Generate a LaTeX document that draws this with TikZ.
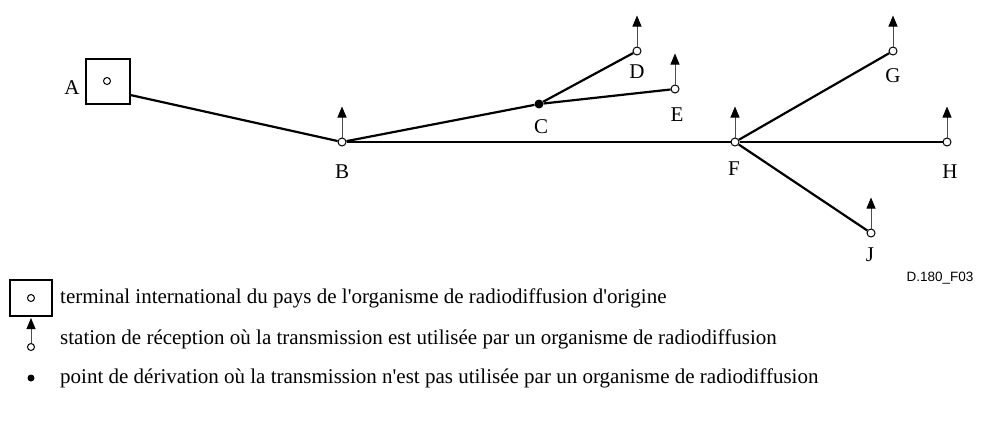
\documentclass[tikz,border=0pt]{standalone}
\usepackage{fontspec}
\setmainfont{Liberation Serif}[Ligatures=TeXOff]
\newfontfamily\tagfont{Liberation Sans}
\usetikzlibrary{arrows.meta,positioning,calc}
\tikzset{
  stn/.style={circle, draw, fill=white, line width=1pt, inner sep=0pt, minimum size=8pt},
  branch/.style={circle, fill=black, inner sep=0pt, minimum size=9pt},
  term/.style={rectangle, draw, line width=1.1pt, minimum width=44pt, minimum height=45pt, inner sep=0pt},
  link/.style={line width=2.2pt},
  antenna/.style={-{Triangle[length=11pt,width=9pt,black]}, line width=0.9pt, draw=black!70},
  tag/.style={font=\fontsize{21}{24}\selectfont, inner sep=0pt},
  lgd/.style={font=\fontsize{21}{24}\selectfont, anchor=west, inner sep=0pt}
}
\begin{document}
\begin{tikzpicture}[x=1pt,y=-1pt]
\useasboundingbox (0,0) rectangle (992,434);
% network
\node[term] (A) at (108,81.5) {};
\node[stn, minimum size=7pt] (Ao) at (107,81) {};
\node[stn] (B) at (342,142) {};
\node[branch] (C) at (539,104) {};
\node[stn] (D) at (637,51) {};
\node[stn] (E) at (675,89) {};
\node[stn] (F) at (735,142) {};
\node[stn] (G) at (893,51) {};
\node[stn] (H) at (947,142) {};
\node[stn] (J) at (871,233) {};
\draw[link] (A.-31) -- (B);
\draw[link] (B) -- (C); \draw[link] (C) -- (D); \draw[link] (C) -- (E);
\draw[link] (B) -- (F);
\draw[link] (F) -- (G); \draw[link] (F) -- (H); \draw[link] (F) -- (J);
\foreach \n in {B,D,E,F,G,H,J}{
  \path (\n.north) ++(0,-31) coordinate (\n-tip);
  \draw[antenna] (\n.north) -- (\n-tip);
}
% labels
\node[tag] (lA) at (72,88) {A};
\node[tag] (lB) at (342,172) {B};
\node[tag] (lC) at (541,127) {C};
\node[tag] (lD) at (637,72) {D};
\node[tag] (lE) at (677,115) {E};
\node[tag] (lF) at (734,169) {F};
\node[tag] (lG) at (893,76) {G};
\node[tag] (lH) at (950,172) {H};
\node[tag] (lJ) at (870,255) {J};
\node[font=\tagfont\fontsize{13.5}{16}\selectfont, inner sep=0pt] (ref) at (940,278) {D.180\_F03};
% legend
\node[term, minimum width=42pt, minimum height=36pt] (k1) at (31,298) {};
\node[stn, minimum size=7pt] (k1o) at (31,298) {};
\node[stn, minimum size=7pt] (k2) at (31,347) {};
\path (k2.north) ++(0,-25) coordinate (k2-tip);
\draw[antenna] (k2.north) -- (k2-tip);
\node[branch, minimum size=7pt] (k3) at (31,378) {};
\node[lgd] (t1) at (60,298) {terminal international du pays de l'organisme de radiodiffusion d'origine};
\node[lgd] (t2) at (60,339) {station de réception où la transmission est utilisée par un organisme de radiodiffusion};
\node[lgd] (t3) at (60,378) {point de dérivation où la transmission n'est pas utilisée par un organisme de radiodiffusion};
\end{tikzpicture}
\end{document}
